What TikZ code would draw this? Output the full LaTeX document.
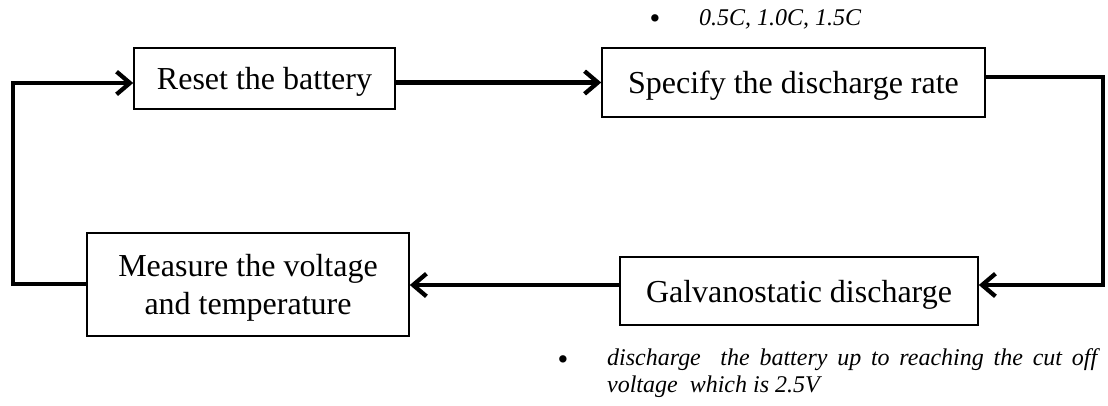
\documentclass[tikz,border=0pt]{standalone}
\usepackage{fontspec}
\setmainfont{Liberation Serif}
\usetikzlibrary{arrows.meta}

\begin{document}
\begin{tikzpicture}[x=0.75pt,y=-0.75pt,->,line width=3.2pt,>={Straight Barb[length=10pt,width=17pt]}]
  \tikzstyle{stage}=[draw,line width=1.2pt,inner sep=0pt,text depth=0pt,font=\fontsize{24}{28.5}\selectfont,align=center]
  \tikzstyle{note}=[font=\fontsize{18}{20.25}\selectfont\itshape,inner sep=0pt]
  \tikzstyle{dot}=[font=\fontsize{23}{24}\selectfont,inner sep=0pt,anchor=base]
  \useasboundingbox (0,0) rectangle (1108,405);

  \node [stage,minimum width=195.75pt,minimum height=45.75pt] (reset) at (264.5,78.5) {Reset the battery};
  \node [stage,minimum width=287.25pt,minimum height=51.75pt] (specify) at (793.5,82.5) {Specify the discharge rate};
  \node [stage,minimum width=268.5pt,minimum height=51pt] (galv) at (799,291) {Galvanostatic discharge};
  \node [stage,minimum width=241.5pt,minimum height=77.25pt] (measure) at (248,284.5) {Measure the voltage\\and temperature};

  % notes
  \node [dot] (dot1) at (655,28) {\textbullet};
  \node [note,anchor=base west] (rates) at (697,25) {0.5C, 1.0C, 1.5C};
  \node [dot] (dot2) at (563,369) {\textbullet};
  \node [note,anchor=base west] (cutoff) at (605,365) {\parbox[t]{367.5pt}{discharge\ \ the battery up to reaching the cut off\linebreak voltage\ \ which is 2.5V}};

  \coordinate (tl) at (13,83);
  \coordinate (bl) at (13,284);
  \coordinate (tr) at (1103,77);
  \coordinate (br) at (1103,285);

  \draw (measure.west |- bl) -- (bl) -- (tl) -- (reset.west |- tl);
  \draw (reset.east |- specify.west) -- (specify.west);
  \draw (specify.east |- tr) -- (tr) -- (br) -- (galv.east |- br);
  \draw (galv.west |- br) -- (measure.east |- br);
\end{tikzpicture}
\end{document}
